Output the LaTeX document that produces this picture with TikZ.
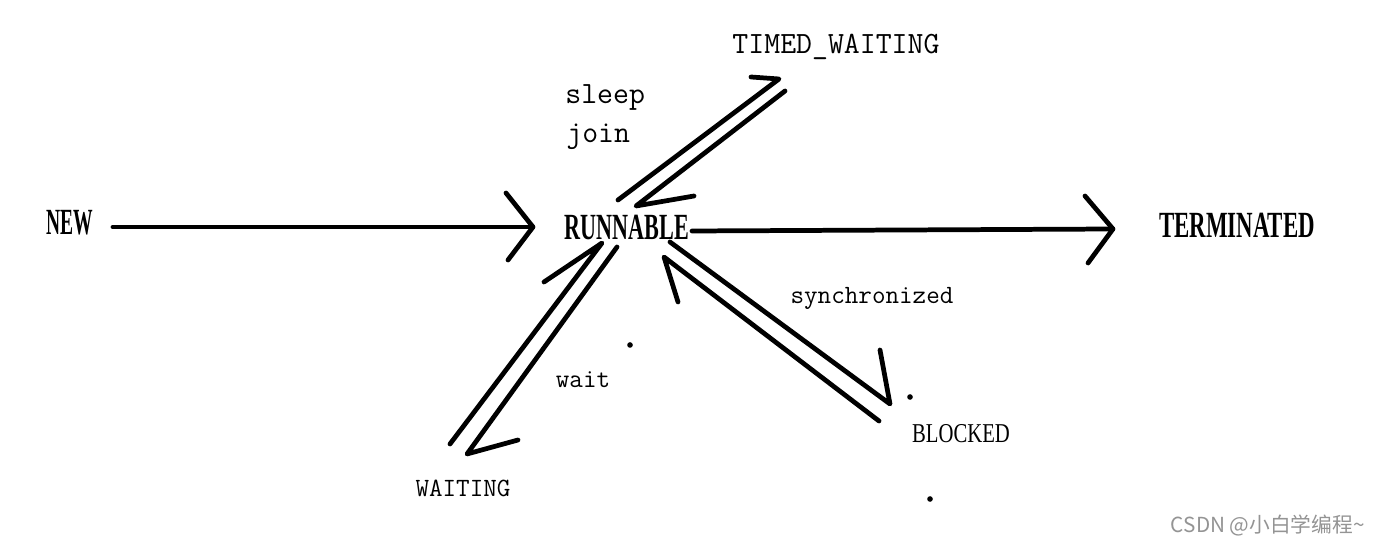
\documentclass[tikz,border=0pt]{standalone}
\usepackage{fontspec}
\setmainfont{Liberation Serif}
\newfontfamily\cjk{Noto Sans CJK SC}
\begin{document}
\begin{tikzpicture}[x=0.02cm,y=-0.02cm,
  stroke/.style={line width=2.7pt,line cap=round,line join=round,black},
  cond/.style={inner sep=0pt,anchor=base,font=\bfseries\fontsize{21}{21}\selectfont},
  mono/.style={inner sep=0pt,anchor=base,font=\ttfamily\fontsize{17.6}{17.6}\selectfont},
  smono/.style={inner sep=0pt,anchor=base,font=\ttfamily\fontsize{15}{15}\selectfont}]
\useasboundingbox[fill=white] (0,0) rectangle (1376,546);
% states
\node[cond] (new) at (70,235) {\scalebox{0.53}[1]{NEW}};
\node[cond] (run) at (627,240) {\scalebox{0.60}[1]{RUNNABLE}};
\node[cond] (term) at (1237,238) {\scalebox{0.62}[1]{TERMINATED}};
\node[mono] (timed) at (836,54) {TIMED\_WAITING};
\node[smono] (waiting) at (463,497) {WAITING};
\node[inner sep=0pt,anchor=base,font=\fontsize{15.5}{15.5}\selectfont] (blocked) at (961,443) {\scalebox{0.76}[1]{BLOCKED}};
% labels
\node[mono,anchor=base west] (sleep) at (565,104) {sleep};
\node[mono,anchor=base west] (join) at (566,143) {join};
\node[smono] (wait) at (583,388) {wait};
\node[smono] (sync) at (872,304) {synchronized};
\node[inner sep=0pt,anchor=base east,text=black!42,font=\cjk\fontsize{11.8}{11.8}\selectfont] (mark) at (1365,533) {CSDN @小白学编程\textasciitilde};
% dots
\fill (630,345) circle (1.6pt) (910,397) circle (1.6pt) (930,499) circle (1.6pt);
% endpoints
\coordinate (n1) at (113,227); \coordinate (n2) at (533,227);
\coordinate (nh1) at (506,193); \coordinate (nh2) at (508,260);
\coordinate (t1) at (692,231); \coordinate (t2) at (1113,229);
\coordinate (th1) at (1085,196); \coordinate (th2) at (1088,263);
\coordinate (a1) at (618,200); \coordinate (a2) at (779,79); \coordinate (ah) at (751,77);
\coordinate (b1) at (785,91); \coordinate (b2) at (636,206); \coordinate (bh) at (694,196);
\coordinate (c1) at (450,444); \coordinate (c2) at (602,243); \coordinate (ch) at (544,282);
\coordinate (d1) at (617,247); \coordinate (d2) at (467,454); \coordinate (dh) at (518,440);
\coordinate (e1) at (670,242); \coordinate (e2) at (890,404); \coordinate (eh) at (880,350);
\coordinate (f1) at (879,421); \coordinate (f2) at (664,257); \coordinate (fh) at (678,302);
% connectors
\draw[stroke] (n1) -- (n2);
\draw[stroke] (nh1) -- (n2) -- (nh2);
\draw[stroke] (t1) -- (t2);
\draw[stroke] (th1) -- (t2) -- (th2);
\draw[stroke] (a1) -- (a2) -- (ah);
\draw[stroke] (b1) -- (b2) -- (bh);
\draw[stroke] (c1) -- (c2) -- (ch);
\draw[stroke] (d1) -- (d2) -- (dh);
\draw[stroke] (e1) -- (e2) -- (eh);
\draw[stroke] (f1) -- (f2) -- (fh);
\end{tikzpicture}
\end{document}
